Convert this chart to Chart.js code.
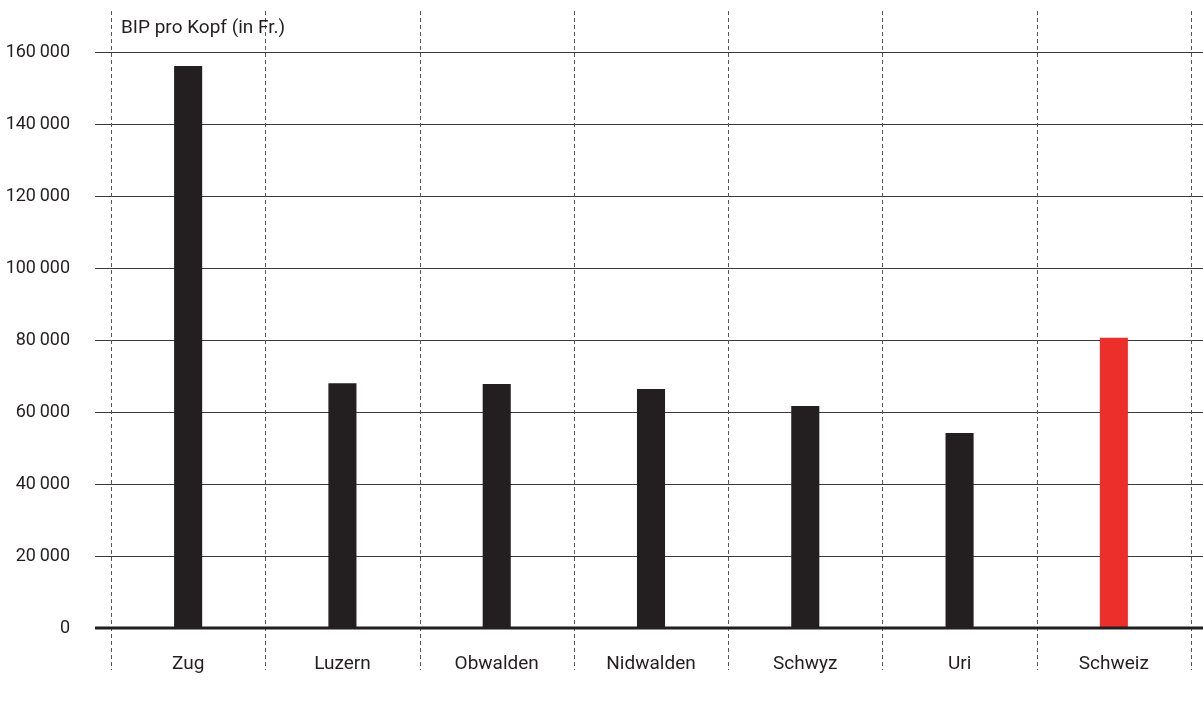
<!DOCTYPE html>
<html>
<head>
<meta charset="utf-8">
<script src="https://cdn.jsdelivr.net/npm/chart.js@4.4.1/dist/chart.umd.min.js"></script>
<style>
  html, body { margin: 0; padding: 0; background: #fff; }
  #wrap { width: 1203px; height: 707px; position: relative; }
</style>
</head>
<body>
<div id="wrap"><canvas id="c" width="1203" height="707"></canvas></div>
<script>
// BIP pro Kopf nach Kanton
const categories = ['Zug', 'Luzern', 'Obwalden', 'Nidwalden', 'Schwyz', 'Uri', 'Schweiz'];
const bipProKopf = [156100, 68000, 67800, 66400, 61700, 54200, 80600];
const yTicks = [0, 20000, 40000, 60000, 80000, 100000, 120000, 140000, 160000];
const axisTitle = 'BIP pro Kopf (in Fr.)';

const FONT = 'Roboto, "DejaVu Sans", sans-serif';
const TEXT = '#231f20';
const barColors = categories.map(c => c === 'Schweiz' ? '#ec2f2a' : '#231f20');

function fmt(v) {
  return String(v).replace(/\B(?=(\d{3})+(?!\d))/g, '\u2009');
}

// Solid horizontal grid, dashed category separators and the axis caption
const framePlugin = {
  id: 'frame',
  beforeDatasetsDraw(chart) {
    const { ctx, chartArea, scales } = chart;
    const y = scales.y, x = scales.x;
    ctx.save();
    // horizontal lines
    ctx.strokeStyle = '#3a3a3a';
    ctx.lineWidth = 1;
    yTicks.forEach(t => {
      if (t === 0) return;
      const py = Math.round(y.getPixelForValue(t)) + 0.5;
      ctx.beginPath();
      ctx.moveTo(chartArea.left - 16, py);
      ctx.lineTo(chart.width, py);
      ctx.stroke();
    });
    // dashed category boundaries
    const n = categories.length;
    const half = (x.getPixelForValue(1) - x.getPixelForValue(0)) / 2;
    ctx.strokeStyle = '#555';
    ctx.setLineDash([4, 3]);
    for (let i = 0; i <= n; i++) {
      const px = Math.round(x.getPixelForValue(i) - half) + 0.5;
      ctx.beginPath();
      ctx.moveTo(px, 11);
      ctx.lineTo(px, chartArea.bottom + 42);
      ctx.stroke();
    }
    ctx.restore();
    // axis caption
    ctx.save();
    ctx.fillStyle = TEXT;
    ctx.font = '19px ' + FONT;
    ctx.textBaseline = 'alphabetic';
    ctx.textAlign = 'left';
    ctx.fillText(axisTitle, chartArea.left + 10, 33);
    ctx.restore();
  },
  afterDatasetsDraw(chart) {
    const { ctx, chartArea, scales } = chart;
    const py = scales.y.getPixelForValue(0);
    ctx.save();
    ctx.strokeStyle = '#231f20';
    ctx.lineWidth = 3;
    ctx.beginPath();
    ctx.moveTo(chartArea.left - 16, py);
    ctx.lineTo(chart.width, py);
    ctx.stroke();
    ctx.restore();
  }
};

new Chart(document.getElementById('c'), {
  type: 'bar',
  data: {
    labels: categories,
    datasets: [{
      data: bipProKopf,
      backgroundColor: barColors,
      borderWidth: 0,
      barPercentage: 0.182,
      categoryPercentage: 1.0
    }]
  },
  options: {
    responsive: false,
    animation: false,
    layout: { padding: { top: 52, right: 12, left: 0, bottom: 0 } },
    plugins: { legend: { display: false }, tooltip: { enabled: false }, title: { display: false } },
    scales: {
      x: {
        grid: { display: false, drawTicks: false },
        border: { display: false },
        ticks: { color: TEXT, font: { family: FONT, size: 19 }, padding: 25 },
        afterFit(s) { s.height = 79; }
      },
      y: {
        min: 0, max: 160000,
        afterBuildTicks(s) { s.ticks = yTicks.map(v => ({ value: v })); },
        grid: { display: false, drawTicks: false },
        border: { display: false },
        ticks: { color: TEXT, font: { family: FONT, size: 18 }, padding: 41, callback: v => fmt(v) },
        afterFit(s) { s.width = 111; }
      }
    }
  },
  plugins: [framePlugin]
});
</script>
</body>
</html>
